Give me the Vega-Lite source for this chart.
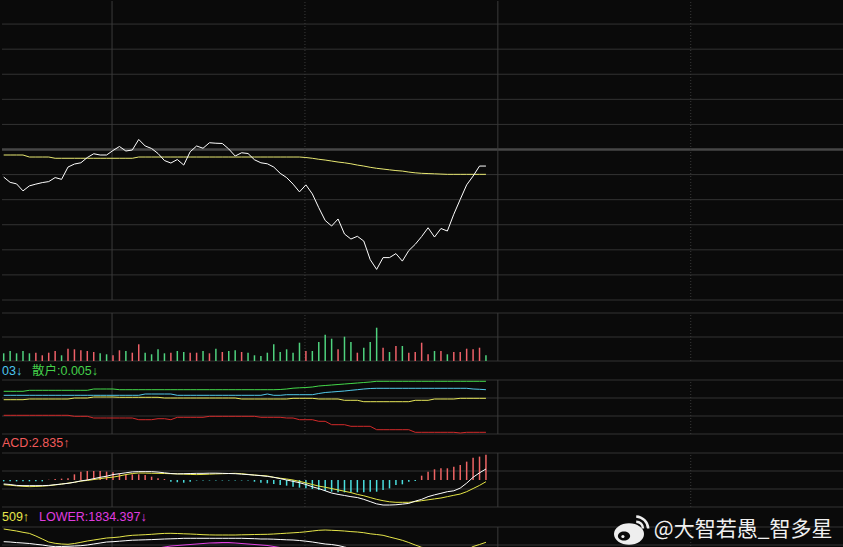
{
"$schema": "https://vega.github.io/schema/vega-lite/v6.json",
"background": "#0a0a0a",
"padding": 0,
"spacing": 0,
"config": {"view": {"stroke": null}, "text": {"font": "Liberation Sans"}},
"datasets": {
"k": [
{"i":0,"c":1829.0,"ma":1837.8,"v":0.77,"d":"dn","g":4.27,"b":3.87,"y":3.43,"r":1.87,"m":-0.15,"dif":-0.44,"dea":-0.52,"up":1876,"mid":1863.3,"lo":1850},
{"i":1,"c":1826.9,"ma":1837.8,"v":1.0,"d":"dn","g":4.27,"b":3.87,"y":3.43,"r":1.87,"m":-0.15,"dif":-0.5,"dea":-0.58,"up":1875,"mid":1863,"lo":1850},
{"i":2,"c":1826.3,"ma":1837.8,"v":0.77,"d":"dn","g":4.27,"b":3.87,"y":3.43,"r":1.87,"m":-0.15,"dif":-0.6,"dea":-0.65,"up":1874,"mid":1862.4,"lo":1850},
{"i":3,"c":1823.5,"ma":1837.8,"v":1.0,"d":"dn","g":4.27,"b":3.87,"y":3.43,"r":1.87,"m":-0.15,"dif":-0.63,"dea":-0.7,"up":1872.7,"mid":1862,"lo":1850},
{"i":4,"c":1825.5,"ma":1837.0,"v":0.77,"d":"dn","g":4.37,"b":3.87,"y":3.5,"r":1.87,"m":-0.15,"dif":-0.63,"dea":-0.74,"up":1871.6,"mid":1861.5,"lo":1850},
{"i":5,"c":1826.2,"ma":1837.0,"v":0.83,"d":"up","g":4.37,"b":3.87,"y":3.5,"r":1.87,"m":-0.15,"dif":-0.63,"dea":-0.72,"up":1869,"mid":1860.7,"lo":1850},
{"i":6,"c":1826.8,"ma":1837.0,"v":0.57,"d":"up","g":4.37,"b":3.87,"y":3.5,"r":1.87,"m":-0.15,"dif":-0.63,"dea":-0.68,"up":1866,"mid":1860,"lo":1850},
{"i":7,"c":1827.2,"ma":1837.0,"v":0.83,"d":"up","g":4.37,"b":3.87,"y":3.5,"r":1.87,"m":0.03,"dif":-0.6,"dea":-0.63,"up":1863,"mid":1859,"lo":1853},
{"i":8,"c":1828.8,"ma":1836.5,"v":1.0,"d":"up","g":4.37,"b":3.87,"y":3.5,"r":1.87,"m":0.1,"dif":-0.52,"dea":-0.55,"up":1861.7,"mid":1858.3,"lo":1854},
{"i":9,"c":1828.1,"ma":1836.5,"v":0.57,"d":"dn","g":4.37,"b":3.87,"y":3.5,"r":1.87,"m":0.15,"dif":-0.45,"dea":-0.45,"up":1861,"mid":1858.5,"lo":1854},
{"i":10,"c":1833.0,"ma":1836.5,"v":1.23,"d":"up","g":4.37,"b":3.87,"y":3.5,"r":1.87,"m":0.2,"dif":-0.37,"dea":-0.35,"up":1860.7,"mid":1858.7,"lo":1854},
{"i":11,"c":1834.2,"ma":1836.5,"v":1.17,"d":"up","g":4.37,"b":3.87,"y":3.6,"r":1.77,"m":0.63,"dif":-0.25,"dea":-0.25,"up":1861.5,"mid":1859,"lo":1854},
{"i":12,"c":1834.7,"ma":1836.5,"v":1.07,"d":"up","g":4.37,"b":3.87,"y":3.6,"r":1.77,"m":0.93,"dif":-0.1,"dea":-0.12,"up":1862.7,"mid":1859.3,"lo":1854},
{"i":13,"c":1836.8,"ma":1836.5,"v":1.0,"d":"up","g":4.37,"b":3.87,"y":3.6,"r":1.77,"m":1.0,"dif":0.0,"dea":-0.05,"up":1864,"mid":1860,"lo":1854},
{"i":14,"c":1838.3,"ma":1836.5,"v":0.9,"d":"up","g":4.5,"b":3.87,"y":3.7,"r":1.6,"m":1.0,"dif":0.15,"dea":0.05,"up":1865,"mid":1861,"lo":1854},
{"i":15,"c":1837.8,"ma":1836.5,"v":0.77,"d":"dn","g":4.5,"b":3.87,"y":3.7,"r":1.6,"m":1.0,"dif":0.3,"dea":0.15,"up":1866,"mid":1862,"lo":1854},
{"i":16,"c":1837.8,"ma":1836.5,"v":0.67,"d":"dn","g":4.5,"b":3.87,"y":3.7,"r":1.6,"m":0.93,"dif":0.42,"dea":0.25,"up":1867,"mid":1863,"lo":1852.5},
{"i":17,"c":1839.6,"ma":1836.5,"v":0.57,"d":"up","g":4.5,"b":3.87,"y":3.7,"r":1.6,"m":0.85,"dif":0.6,"dea":0.32,"up":1867.4,"mid":1863.3,"lo":1851},
{"i":18,"c":1841.2,"ma":1836.5,"v":1.07,"d":"up","g":4.43,"b":3.87,"y":3.67,"r":1.6,"m":0.74,"dif":0.7,"dea":0.45,"up":1868,"mid":1863.8,"lo":1851},
{"i":19,"c":1839.4,"ma":1836.5,"v":1.0,"d":"dn","g":4.43,"b":3.87,"y":3.67,"r":1.6,"m":0.63,"dif":0.8,"dea":0.6,"up":1869,"mid":1864.3,"lo":1851},
{"i":20,"c":1839.8,"ma":1836.5,"v":0.83,"d":"up","g":4.43,"b":3.87,"y":3.67,"r":1.6,"m":0.63,"dif":0.9,"dea":0.72,"up":1869.7,"mid":1864.8,"lo":1852},
{"i":21,"c":1844.0,"ma":1837.0,"v":1.67,"d":"up","g":4.43,"b":3.87,"y":3.67,"r":1.43,"m":0.63,"dif":0.93,"dea":0.78,"up":1870,"mid":1865,"lo":1854},
{"i":22,"c":1841.4,"ma":1837.0,"v":0.83,"d":"dn","g":4.43,"b":4.0,"y":3.67,"r":1.43,"m":0.55,"dif":0.93,"dea":0.77,"up":1870.3,"mid":1865.2,"lo":1855},
{"i":23,"c":1840.4,"ma":1837.0,"v":0.67,"d":"dn","g":4.43,"b":4.0,"y":3.67,"r":1.43,"m":0.37,"dif":0.93,"dea":0.75,"up":1870.7,"mid":1865.4,"lo":1856},
{"i":24,"c":1838.4,"ma":1837.0,"v":1.17,"d":"dn","g":4.43,"b":4.0,"y":3.67,"r":1.53,"m":0.2,"dif":0.88,"dea":0.74,"up":1871.2,"mid":1865.7,"lo":1857},
{"i":25,"c":1835.6,"ma":1837.0,"v":0.77,"d":"dn","g":4.43,"b":4.0,"y":3.6,"r":1.53,"m":0.1,"dif":0.8,"dea":0.72,"up":1871.6,"mid":1866,"lo":1858},
{"i":26,"c":1834.6,"ma":1837.0,"v":0.83,"d":"up","g":4.43,"b":4.0,"y":3.6,"r":1.43,"m":-0.2,"dif":0.72,"dea":0.7,"up":1871.7,"mid":1866.2,"lo":1859},
{"i":27,"c":1836.0,"ma":1837.0,"v":1.0,"d":"dn","g":4.43,"b":3.87,"y":3.6,"r":1.67,"m":-0.25,"dif":0.68,"dea":0.68,"up":1871.5,"mid":1866.4,"lo":1859.5},
{"i":28,"c":1833.8,"ma":1837.0,"v":0.9,"d":"dn","g":4.43,"b":3.87,"y":3.6,"r":1.67,"m":-0.3,"dif":0.7,"dea":0.65,"up":1871.2,"mid":1866.7,"lo":1860},
{"i":29,"c":1839.1,"ma":1837.0,"v":0.83,"d":"up","g":4.43,"b":3.87,"y":3.6,"r":1.67,"m":-0.2,"dif":0.72,"dea":0.62,"up":1871,"mid":1866.7,"lo":1860.5},
{"i":30,"c":1841.4,"ma":1837.0,"v":0.83,"d":"up","g":4.43,"b":3.87,"y":3.6,"r":1.67,"m":-0.05,"dif":0.74,"dea":0.6,"up":1870.7,"mid":1866.7,"lo":1861},
{"i":31,"c":1840.5,"ma":1837.0,"v":1.0,"d":"dn","g":4.43,"b":3.87,"y":3.6,"r":1.67,"m":-0.05,"dif":0.74,"dea":0.62,"up":1870.3,"mid":1866.7,"lo":1861.5},
{"i":32,"c":1842.7,"ma":1837.0,"v":0.77,"d":"up","g":4.43,"b":3.87,"y":3.6,"r":1.77,"m":-0.05,"dif":0.76,"dea":0.65,"up":1870.1,"mid":1866.7,"lo":1862},
{"i":33,"c":1842.5,"ma":1837.0,"v":1.23,"d":"dn","g":4.43,"b":3.87,"y":3.6,"r":1.77,"m":-0.05,"dif":0.76,"dea":0.68,"up":1870,"mid":1866.7,"lo":1862.2},
{"i":34,"c":1842.4,"ma":1837.0,"v":0.9,"d":"up","g":4.43,"b":3.87,"y":3.6,"r":1.77,"m":-0.05,"dif":0.74,"dea":0.7,"up":1870,"mid":1866.7,"lo":1862.3},
{"i":35,"c":1840.2,"ma":1837.0,"v":1.0,"d":"dn","g":4.43,"b":3.87,"y":3.6,"r":1.77,"m":-0.05,"dif":0.72,"dea":0.72,"up":1870,"mid":1866.7,"lo":1862.3},
{"i":36,"c":1837.4,"ma":1837.0,"v":1.07,"d":"dn","g":4.43,"b":3.87,"y":3.6,"r":1.77,"m":-0.05,"dif":0.7,"dea":0.74,"up":1870,"mid":1866.7,"lo":1862},
{"i":37,"c":1838.7,"ma":1837.0,"v":0.9,"d":"up","g":4.43,"b":3.87,"y":3.5,"r":1.77,"m":-0.05,"dif":0.65,"dea":0.7,"up":1870.2,"mid":1866.7,"lo":1861.5},
{"i":38,"c":1838.4,"ma":1837.0,"v":0.83,"d":"dn","g":4.43,"b":3.87,"y":3.5,"r":1.77,"m":-0.05,"dif":0.6,"dea":0.62,"up":1870.3,"mid":1866.5,"lo":1861},
{"i":39,"c":1835.9,"ma":1837.0,"v":0.57,"d":"dn","g":4.43,"b":3.87,"y":3.5,"r":1.77,"m":-0.19,"dif":0.54,"dea":0.55,"up":1870.5,"mid":1866.3,"lo":1860.5},
{"i":40,"c":1834.7,"ma":1837.0,"v":0.5,"d":"dn","g":4.43,"b":3.87,"y":3.5,"r":1.67,"m":-0.3,"dif":0.48,"dea":0.5,"up":1870.6,"mid":1866,"lo":1860},
{"i":41,"c":1834.3,"ma":1837.0,"v":0.83,"d":"dn","g":4.43,"b":4.0,"y":3.5,"r":1.67,"m":-0.37,"dif":0.4,"dea":0.45,"up":1870.7,"mid":1866,"lo":1859.5},
{"i":42,"c":1833.0,"ma":1837.0,"v":1.67,"d":"dn","g":4.43,"b":3.87,"y":3.5,"r":1.67,"m":-0.44,"dif":0.3,"dea":0.3,"up":1871,"mid":1865.8,"lo":1858.5},
{"i":43,"c":1830.5,"ma":1837.0,"v":0.9,"d":"dn","g":4.45,"b":3.87,"y":3.5,"r":1.67,"m":-0.55,"dif":0.15,"dea":0.2,"up":1871.4,"mid":1865.5,"lo":1857.5},
{"i":44,"c":1828.8,"ma":1837.0,"v":1.17,"d":"dn","g":4.5,"b":3.93,"y":3.5,"r":1.6,"m":-0.63,"dif":0.0,"dea":0.11,"up":1871.8,"mid":1865.2,"lo":1856},
{"i":45,"c":1826.2,"ma":1837.0,"v":0.83,"d":"dn","g":4.58,"b":3.93,"y":3.57,"r":1.6,"m":-0.74,"dif":-0.15,"dea":0.0,"up":1872.2,"mid":1865,"lo":1854.5},
{"i":46,"c":1823.1,"ma":1837.0,"v":1.83,"d":"dn","g":4.62,"b":3.93,"y":3.57,"r":1.43,"m":-0.85,"dif":-0.3,"dea":-0.15,"up":1872.6,"mid":1864.5,"lo":1853},
{"i":47,"c":1825.9,"ma":1836.8,"v":1.0,"d":"up","g":4.65,"b":3.93,"y":3.57,"r":1.43,"m":-0.93,"dif":-0.5,"dea":-0.32,"up":1873.2,"mid":1863.8,"lo":1852},
{"i":48,"c":1822.3,"ma":1836.5,"v":1.0,"d":"dn","g":4.7,"b":3.93,"y":3.57,"r":1.43,"m":-1.0,"dif":-0.75,"dea":-0.5,"up":1874,"mid":1863,"lo":1850},
{"i":49,"c":1816.8,"ma":1836.1,"v":1.9,"d":"dn","g":4.8,"b":4.05,"y":3.5,"r":1.27,"m":-1.11,"dif":-0.95,"dea":-0.68,"up":1874.7,"mid":1862,"lo":1848},
{"i":50,"c":1811.7,"ma":1835.8,"v":2.63,"d":"dn","g":4.85,"b":4.15,"y":3.5,"r":1.27,"m":-1.22,"dif":-1.2,"dea":-0.8,"up":1875,"mid":1861,"lo":1845},
{"i":51,"c":1809.5,"ma":1835.4,"v":2.23,"d":"dn","g":4.9,"b":4.2,"y":3.5,"r":0.93,"m":-1.3,"dif":-1.45,"dea":-0.95,"up":1874.7,"mid":1860.5,"lo":1842},
{"i":52,"c":1812.3,"ma":1835.0,"v":1.17,"d":"up","g":4.95,"b":4.25,"y":3.5,"r":0.93,"m":-1.37,"dif":-1.6,"dea":-1.1,"up":1874.4,"mid":1859.5,"lo":1839},
{"i":53,"c":1806.3,"ma":1834.7,"v":2.43,"d":"dn","g":5.0,"b":4.3,"y":3.37,"r":0.93,"m":-1.37,"dif":-1.72,"dea":-1.25,"up":1874,"mid":1858,"lo":1836},
{"i":54,"c":1804.3,"ma":1834.3,"v":1.9,"d":"dn","g":5.05,"b":4.37,"y":3.37,"r":0.77,"m":-1.37,"dif":-1.85,"dea":-1.4,"up":1873.4,"mid":1856.5,"lo":1833},
{"i":55,"c":1805.4,"ma":1833.8,"v":0.83,"d":"up","g":5.1,"b":4.43,"y":3.37,"r":0.77,"m":-1.37,"dif":-1.95,"dea":-1.6,"up":1873,"mid":1855,"lo":1830},
{"i":56,"c":1803.5,"ma":1833.4,"v":1.33,"d":"dn","g":5.15,"b":4.5,"y":3.23,"r":0.77,"m":-1.37,"dif":-2.15,"dea":-1.75,"up":1872.3,"mid":1853.5,"lo":1828},
{"i":57,"c":1796.1,"ma":1832.9,"v":1.9,"d":"dn","g":5.2,"b":4.55,"y":3.23,"r":0.77,"m":-1.3,"dif":-2.4,"dea":-1.95,"up":1871.2,"mid":1852,"lo":1826},
{"i":58,"c":1792.2,"ma":1832.5,"v":3.33,"d":"dn","g":5.27,"b":4.57,"y":3.23,"r":0.43,"m":-1.3,"dif":-2.65,"dea":-2.15,"up":1870.5,"mid":1850.5,"lo":1825},
{"i":59,"c":1796.9,"ma":1832.2,"v":1.33,"d":"up","g":5.27,"b":4.57,"y":3.23,"r":0.43,"m":-1.11,"dif":-2.78,"dea":-2.3,"up":1869.7,"mid":1849,"lo":1824},
{"i":60,"c":1796.9,"ma":1831.9,"v":0.9,"d":"dn","g":5.27,"b":4.57,"y":3.23,"r":0.43,"m":-0.93,"dif":-2.78,"dea":-2.42,"up":1868,"mid":1847.5,"lo":1823},
{"i":61,"c":1798.5,"ma":1831.6,"v":1.5,"d":"up","g":5.27,"b":4.57,"y":3.23,"r":0.43,"m":-0.55,"dif":-2.75,"dea":-2.48,"up":1866.4,"mid":1846,"lo":1822},
{"i":62,"c":1795.5,"ma":1831.4,"v":1.5,"d":"dn","g":5.27,"b":4.57,"y":3.23,"r":0.43,"m":-0.48,"dif":-2.68,"dea":-2.48,"up":1864.7,"mid":1845,"lo":1822},
{"i":63,"c":1799.7,"ma":1831.0,"v":0.83,"d":"up","g":5.27,"b":4.57,"y":3.23,"r":0.43,"m":-0.2,"dif":-2.6,"dea":-2.48,"up":1862.5,"mid":1844,"lo":1822},
{"i":64,"c":1802.2,"ma":1830.7,"v":0.9,"d":"up","g":5.27,"b":4.57,"y":3.37,"r":0.17,"m":-0.1,"dif":-2.35,"dea":-2.4,"up":1860,"mid":1843.5,"lo":1823},
{"i":65,"c":1805.3,"ma":1830.5,"v":1.83,"d":"up","g":5.27,"b":4.57,"y":3.37,"r":0.17,"m":0.48,"dif":-2.15,"dea":-2.3,"up":1857.7,"mid":1843.5,"lo":1824},
{"i":66,"c":1808.8,"ma":1830.4,"v":0.67,"d":"up","g":5.27,"b":4.57,"y":3.37,"r":0.17,"m":0.93,"dif":-1.85,"dea":-2.2,"up":1856.7,"mid":1844,"lo":1825},
{"i":67,"c":1805.1,"ma":1830.3,"v":1.0,"d":"dn","g":5.27,"b":4.57,"y":3.5,"r":0.17,"m":1.19,"dif":-1.65,"dea":-2.1,"up":1853,"mid":1845,"lo":1826},
{"i":68,"c":1808.5,"ma":1830.2,"v":1.0,"d":"up","g":5.27,"b":4.57,"y":3.5,"r":0.17,"m":1.3,"dif":-1.48,"dea":-2.0,"up":1851,"mid":1846,"lo":1827},
{"i":69,"c":1807.5,"ma":1830.1,"v":0.67,"d":"dn","g":5.27,"b":4.57,"y":3.5,"r":0.17,"m":1.3,"dif":-1.3,"dea":-1.85,"up":1850,"mid":1847,"lo":1828},
{"i":70,"c":1814.2,"ma":1830.1,"v":0.9,"d":"up","g":5.27,"b":4.57,"y":3.5,"r":0.17,"m":1.48,"dif":-1.2,"dea":-1.7,"up":1850,"mid":1848,"lo":1829},
{"i":71,"c":1820.1,"ma":1830.1,"v":0.9,"d":"up","g":5.27,"b":4.57,"y":3.57,"r":0.1,"m":1.67,"dif":-0.9,"dea":-1.56,"up":1851,"mid":1849,"lo":1830},
{"i":72,"c":1825.9,"ma":1830.1,"v":1.23,"d":"up","g":5.27,"b":4.57,"y":3.57,"r":0.17,"m":2.04,"dif":-0.35,"dea":-1.3,"up":1855,"mid":1850,"lo":1831},
{"i":73,"c":1829.4,"ma":1830.1,"v":1.17,"d":"up","g":5.27,"b":4.5,"y":3.57,"r":0.17,"m":2.48,"dif":0.3,"dea":-0.95,"up":1858.5,"mid":1850.5,"lo":1832},
{"i":74,"c":1833.4,"ma":1830.1,"v":1.33,"d":"up","g":5.27,"b":4.47,"y":3.57,"r":0.17,"m":2.6,"dif":0.8,"dea":-0.6,"up":1860.5,"mid":1851,"lo":1833},
{"i":75,"c":1833.4,"ma":1830.1,"v":0.57,"d":"dn","g":5.27,"b":4.43,"y":3.57,"r":0.17,"m":2.8,"dif":1.22,"dea":-0.19,"up":1862.7,"mid":1851.5,"lo":1834.4}
]
},
"vconcat": [
{
"width": 843, "height": 299,
"layer": [
{"data": {"values": [{"v":1780},{"v":1790},{"v":1800},{"v":1810},{"v":1820},{"v":1830},{"v":1850},{"v":1860},{"v":1870},{"v":1880},{"v":1890}]},
 "mark": {"type": "rule", "color": "#333333", "strokeWidth": 1},
 "encoding": {"y": {"field": "v", "type": "quantitative", "scale": {"domain": [1780, 1899.2], "nice": false, "zero": false}, "axis": null}}},
{"data": {"values": [{"v":1840}]},
 "mark": {"type": "rule", "color": "#474747", "strokeWidth": 2.5},
 "encoding": {"y": {"field": "v", "type": "quantitative", "scale": {"domain": [1780, 1899.2], "nice": false, "zero": false}, "axis": null}}},
{"data": {"values": [{"x":16.85},{"x":76.85}]},
 "mark": {"type": "rule", "color": "#3a3a3a", "strokeWidth": 1},
 "encoding": {"x": {"field": "x", "type": "quantitative", "scale": {"domain": [-0.2644, 130.84], "nice": false, "zero": false}, "axis": null},
  "y": {"datum": 1780, "type": "quantitative", "scale": {"domain": [1780, 1899.2], "nice": false, "zero": false}, "axis": null}, "y2": {"datum": 1899.2}}},
{"data": {"values": [{"x":46.85},{"x":106.85}]},
 "mark": {"type": "rule", "color": "#3a3a3a", "strokeWidth": 1, "strokeDash": [1, 2]},
 "encoding": {"x": {"field": "x", "type": "quantitative", "scale": {"domain": [-0.2644, 130.84], "nice": false, "zero": false}, "axis": null},
  "y": {"datum": 1780, "type": "quantitative", "scale": {"domain": [1780, 1899.2], "nice": false, "zero": false}, "axis": null}, "y2": {"datum": 1899.2}}},
{"data": {"name": "k"},
 "mark": {"type": "line", "color": "#e8e872", "strokeWidth": 1},
 "encoding": {"x": {"field": "i", "type": "quantitative", "scale": {"domain": [-0.2644, 130.84], "nice": false, "zero": false}, "axis": null},
  "y": {"field": "ma", "type": "quantitative", "scale": {"domain": [1780, 1899.2], "nice": false, "zero": false}, "axis": null}}},
{"data": {"name": "k"},
 "mark": {"type": "line", "color": "#ffffff", "strokeWidth": 1},
 "encoding": {"x": {"field": "i", "type": "quantitative", "scale": {"domain": [-0.2644, 130.84], "nice": false, "zero": false}, "axis": null},
  "y": {"field": "c", "type": "quantitative", "scale": {"domain": [1780, 1899.2], "nice": false, "zero": false}, "axis": null}}}
]
},
{
"width": 843, "height": 60,
"layer": [
{"data": {"values": [{"v":0},{"v":2.4},{"v":4.8}]},
 "mark": {"type": "rule", "color": "#333333", "strokeWidth": 1},
 "encoding": {"y": {"field": "v", "type": "quantitative", "scale": {"domain": [0, 6], "nice": false, "zero": false}, "axis": null}}},
{"data": {"values": [{"x":16.85},{"x":76.85}]},
 "mark": {"type": "rule", "color": "#3a3a3a", "strokeWidth": 1},
 "encoding": {"x": {"field": "x", "type": "quantitative", "scale": {"domain": [-0.2644, 130.84], "nice": false, "zero": false}, "axis": null},
  "y": {"datum": 0, "type": "quantitative", "scale": {"domain": [0, 6], "nice": false, "zero": false}, "axis": null}, "y2": {"datum": 4.8}}},
{"data": {"values": [{"x":46.85},{"x":106.85}]},
 "mark": {"type": "rule", "color": "#3a3a3a", "strokeWidth": 1, "strokeDash": [1, 2]},
 "encoding": {"x": {"field": "x", "type": "quantitative", "scale": {"domain": [-0.2644, 130.84], "nice": false, "zero": false}, "axis": null},
  "y": {"datum": 0, "type": "quantitative", "scale": {"domain": [0, 6], "nice": false, "zero": false}, "axis": null}, "y2": {"datum": 4.8}}},
{"data": {"name": "k"},
 "mark": {"type": "rule", "strokeWidth": 1.5},
 "encoding": {"x": {"field": "i", "type": "quantitative", "scale": {"domain": [-0.2644, 130.84], "nice": false, "zero": false}, "axis": null},
  "y": {"field": "v", "type": "quantitative", "scale": {"domain": [0, 6], "nice": false, "zero": false}, "axis": null},
  "y2": {"datum": 0},
  "color": {"field": "d", "type": "nominal", "scale": {"domain": ["up", "dn"], "range": ["#ee6068", "#4fd27e"]}, "legend": null}}}
]
},
{
"width": 843, "height": 72,
"layer": [
{"data": {"values": [{"v":0},{"v":1.8},{"v":3.6},{"v":5.4}]},
 "mark": {"type": "rule", "color": "#333333", "strokeWidth": 1},
 "encoding": {"y": {"field": "v", "type": "quantitative", "scale": {"domain": [0, 7.2], "nice": false, "zero": false}, "axis": null}}},
{"data": {"values": [{"x":16.85},{"x":76.85}]},
 "mark": {"type": "rule", "color": "#3a3a3a", "strokeWidth": 1},
 "encoding": {"x": {"field": "x", "type": "quantitative", "scale": {"domain": [-0.2644, 130.84], "nice": false, "zero": false}, "axis": null},
  "y": {"datum": 0, "type": "quantitative", "scale": {"domain": [0, 7.2], "nice": false, "zero": false}, "axis": null}, "y2": {"datum": 5.4}}},
{"data": {"values": [{"x":46.85},{"x":106.85}]},
 "mark": {"type": "rule", "color": "#3a3a3a", "strokeWidth": 1, "strokeDash": [1, 2]},
 "encoding": {"x": {"field": "x", "type": "quantitative", "scale": {"domain": [-0.2644, 130.84], "nice": false, "zero": false}, "axis": null},
  "y": {"datum": 0, "type": "quantitative", "scale": {"domain": [0, 7.2], "nice": false, "zero": false}, "axis": null}, "y2": {"datum": 5.4}}},
{"data": {"name": "k"},
 "mark": {"type": "line", "color": "#d22a2a", "strokeWidth": 1},
 "encoding": {"x": {"field": "i", "type": "quantitative", "scale": {"domain": [-0.2644, 130.84], "nice": false, "zero": false}, "axis": null},
  "y": {"field": "r", "type": "quantitative", "scale": {"domain": [0, 7.2], "nice": false, "zero": false}, "axis": null}}},
{"data": {"name": "k"},
 "mark": {"type": "line", "color": "#e8e85a", "strokeWidth": 1},
 "encoding": {"x": {"field": "i", "type": "quantitative", "scale": {"domain": [-0.2644, 130.84], "nice": false, "zero": false}, "axis": null},
  "y": {"field": "y", "type": "quantitative", "scale": {"domain": [0, 7.2], "nice": false, "zero": false}, "axis": null}}},
{"data": {"name": "k"},
 "mark": {"type": "line", "color": "#52c8e8", "strokeWidth": 1},
 "encoding": {"x": {"field": "i", "type": "quantitative", "scale": {"domain": [-0.2644, 130.84], "nice": false, "zero": false}, "axis": null},
  "y": {"field": "b", "type": "quantitative", "scale": {"domain": [0, 7.2], "nice": false, "zero": false}, "axis": null}}},
{"data": {"name": "k"},
 "mark": {"type": "line", "color": "#44d84a", "strokeWidth": 1},
 "encoding": {"x": {"field": "i", "type": "quantitative", "scale": {"domain": [-0.2644, 130.84], "nice": false, "zero": false}, "axis": null},
  "y": {"field": "g", "type": "quantitative", "scale": {"domain": [0, 7.2], "nice": false, "zero": false}, "axis": null}}},
{"data": {"values": [{}]},
 "mark": {"type": "text", "align": "left", "baseline": "middle", "fontSize": 12.5, "color": "#4cc6ee", "text": "03↓"},
 "encoding": {"x": {"datum": -0.2644, "type": "quantitative", "scale": {"domain": [-0.2644, 130.84], "nice": false, "zero": false}, "axis": null},
  "y": {"datum": 6.3, "type": "quantitative", "scale": {"domain": [0, 7.2], "nice": false, "zero": false}, "axis": null}}},
{"data": {"values": [{}]},
 "mark": {"type": "text", "align": "left", "baseline": "middle", "fontSize": 12.5, "font": "Liberation Sans, Noto Sans CJK SC", "color": "#44d04a", "text": "散户:0.005↓"},
 "encoding": {"x": {"datum": 4.4, "type": "quantitative", "scale": {"domain": [-0.2644, 130.84], "nice": false, "zero": false}, "axis": null},
  "y": {"datum": 6.3, "type": "quantitative", "scale": {"domain": [0, 7.2], "nice": false, "zero": false}, "axis": null}}}
]
},
{
"width": 843, "height": 72,
"layer": [
{"data": {"values": [{"v":-3},{"v":-1},{"v":1},{"v":3}]},
 "mark": {"type": "rule", "color": "#333333", "strokeWidth": 1},
 "encoding": {"y": {"field": "v", "type": "quantitative", "scale": {"domain": [-3, 5], "nice": false, "zero": false}, "axis": null}}},
{"data": {"values": [{"x":16.85},{"x":76.85}]},
 "mark": {"type": "rule", "color": "#3a3a3a", "strokeWidth": 1},
 "encoding": {"x": {"field": "x", "type": "quantitative", "scale": {"domain": [-0.2644, 130.84], "nice": false, "zero": false}, "axis": null},
  "y": {"datum": -3, "type": "quantitative", "scale": {"domain": [-3, 5], "nice": false, "zero": false}, "axis": null}, "y2": {"datum": 3}}},
{"data": {"values": [{"x":46.85},{"x":106.85}]},
 "mark": {"type": "rule", "color": "#3a3a3a", "strokeWidth": 1, "strokeDash": [1, 2]},
 "encoding": {"x": {"field": "x", "type": "quantitative", "scale": {"domain": [-0.2644, 130.84], "nice": false, "zero": false}, "axis": null},
  "y": {"datum": -3, "type": "quantitative", "scale": {"domain": [-3, 5], "nice": false, "zero": false}, "axis": null}, "y2": {"datum": 3}}},
{"data": {"name": "k"},
 "mark": {"type": "rule", "strokeWidth": 1.5},
 "encoding": {"x": {"field": "i", "type": "quantitative", "scale": {"domain": [-0.2644, 130.84], "nice": false, "zero": false}, "axis": null},
  "y": {"field": "m", "type": "quantitative", "scale": {"domain": [-3, 5], "nice": false, "zero": false}, "axis": null},
  "y2": {"datum": 0},
  "color": {"condition": {"test": "datum.m > 0", "value": "#ee6464"}, "value": "#4adede"}}},
{"data": {"name": "k"},
 "mark": {"type": "line", "color": "#e6e646", "strokeWidth": 1},
 "encoding": {"x": {"field": "i", "type": "quantitative", "scale": {"domain": [-0.2644, 130.84], "nice": false, "zero": false}, "axis": null},
  "y": {"field": "dea", "type": "quantitative", "scale": {"domain": [-3, 5], "nice": false, "zero": false}, "axis": null}}},
{"data": {"name": "k"},
 "mark": {"type": "line", "color": "#ffffff", "strokeWidth": 1},
 "encoding": {"x": {"field": "i", "type": "quantitative", "scale": {"domain": [-0.2644, 130.84], "nice": false, "zero": false}, "axis": null},
  "y": {"field": "dif", "type": "quantitative", "scale": {"domain": [-3, 5], "nice": false, "zero": false}, "axis": null}}},
{"data": {"values": [{}]},
 "mark": {"type": "text", "align": "left", "baseline": "middle", "fontSize": 12.5, "color": "#f25a5a", "text": "ACD:2.835↑"},
 "encoding": {"x": {"datum": -0.2644, "type": "quantitative", "scale": {"domain": [-0.2644, 130.84], "nice": false, "zero": false}, "axis": null},
  "y": {"datum": 4.11, "type": "quantitative", "scale": {"domain": [-3, 5], "nice": false, "zero": false}, "axis": null}}}
]
},
{
"width": 843, "height": 44,
"layer": [
{"data": {"values": [{"v":1860},{"v":1878}]},
 "mark": {"type": "rule", "color": "#333333", "strokeWidth": 1},
 "encoding": {"y": {"field": "v", "type": "quantitative", "scale": {"domain": [1853, 1897], "nice": false, "zero": false}, "axis": null}}},
{"data": {"values": [{"x":16.85},{"x":76.85}]},
 "mark": {"type": "rule", "color": "#3a3a3a", "strokeWidth": 1},
 "encoding": {"x": {"field": "x", "type": "quantitative", "scale": {"domain": [-0.2644, 130.84], "nice": false, "zero": false}, "axis": null},
  "y": {"datum": 1853, "type": "quantitative", "scale": {"domain": [1853, 1897], "nice": false, "zero": false}, "axis": null}, "y2": {"datum": 1878}}},
{"data": {"values": [{"x":46.85},{"x":106.85}]},
 "mark": {"type": "rule", "color": "#3a3a3a", "strokeWidth": 1, "strokeDash": [1, 2]},
 "encoding": {"x": {"field": "x", "type": "quantitative", "scale": {"domain": [-0.2644, 130.84], "nice": false, "zero": false}, "axis": null},
  "y": {"datum": 1853, "type": "quantitative", "scale": {"domain": [1853, 1897], "nice": false, "zero": false}, "axis": null}, "y2": {"datum": 1878}}},
{"data": {"name": "k"},
 "mark": {"type": "line", "color": "#e040e0", "strokeWidth": 1.2, "clip": true},
 "encoding": {"x": {"field": "i", "type": "quantitative", "scale": {"domain": [-0.2644, 130.84], "nice": false, "zero": false}, "axis": null},
  "y": {"field": "lo", "type": "quantitative", "scale": {"domain": [1853, 1897], "nice": false, "zero": false}, "axis": null}}},
{"data": {"name": "k"},
 "mark": {"type": "line", "color": "#ffffff", "strokeWidth": 1, "clip": true},
 "encoding": {"x": {"field": "i", "type": "quantitative", "scale": {"domain": [-0.2644, 130.84], "nice": false, "zero": false}, "axis": null},
  "y": {"field": "mid", "type": "quantitative", "scale": {"domain": [1853, 1897], "nice": false, "zero": false}, "axis": null}}},
{"data": {"name": "k"},
 "mark": {"type": "line", "color": "#e6e64a", "strokeWidth": 1, "clip": true},
 "encoding": {"x": {"field": "i", "type": "quantitative", "scale": {"domain": [-0.2644, 130.84], "nice": false, "zero": false}, "axis": null},
  "y": {"field": "up", "type": "quantitative", "scale": {"domain": [1853, 1897], "nice": false, "zero": false}, "axis": null}}},
{"data": {"values": [{}]},
 "mark": {"type": "text", "align": "left", "baseline": "middle", "fontSize": 12.5, "color": "#e6e64a", "text": "509↑"},
 "encoding": {"x": {"datum": -0.2644, "type": "quantitative", "scale": {"domain": [-0.2644, 130.84], "nice": false, "zero": false}, "axis": null},
  "y": {"datum": 1888, "type": "quantitative", "scale": {"domain": [1853, 1897], "nice": false, "zero": false}, "axis": null}}},
{"data": {"values": [{}]},
 "mark": {"type": "text", "align": "left", "baseline": "middle", "fontSize": 12.5, "color": "#e03ce0", "text": "LOWER:1834.397↓"},
 "encoding": {"x": {"datum": 5.49, "type": "quantitative", "scale": {"domain": [-0.2644, 130.84], "nice": false, "zero": false}, "axis": null},
  "y": {"datum": 1888, "type": "quantitative", "scale": {"domain": [1853, 1897], "nice": false, "zero": false}, "axis": null}}},
{"data": {"values": [{}]},
 "mark": {"type": "point", "shape": "M -1 0 A 1 0.72 0 1 1 1 0 A 1 0.72 0 1 1 -1 0 Z", "filled": true, "color": "#eeeeee", "size": 900, "opacity": 1},
 "encoding": {"x": {"datum": 97.25, "type": "quantitative", "scale": {"domain": [-0.2644, 130.84], "nice": false, "zero": false}, "axis": null},
  "y": {"datum": 1871, "type": "quantitative", "scale": {"domain": [1853, 1897], "nice": false, "zero": false}, "axis": null}}},
{"data": {"values": [{}]},
 "mark": {"type": "point", "shape": "M -1 0 A 1 0.75 0 1 1 1 0 A 1 0.75 0 1 1 -1 0 Z", "filled": true, "color": "#0a0a0a", "size": 150, "opacity": 1},
 "encoding": {"x": {"datum": 96.47, "type": "quantitative", "scale": {"domain": [-0.2644, 130.84], "nice": false, "zero": false}, "axis": null},
  "y": {"datum": 1869, "type": "quantitative", "scale": {"domain": [1853, 1897], "nice": false, "zero": false}, "axis": null}}},
{"data": {"values": [{}]},
 "mark": {"type": "point", "shape": "circle", "filled": true, "color": "#eeeeee", "size": 10, "opacity": 1},
 "encoding": {"x": {"datum": 96.3, "type": "quantitative", "scale": {"domain": [-0.2644, 130.84], "nice": false, "zero": false}, "axis": null},
  "y": {"datum": 1868.5, "type": "quantitative", "scale": {"domain": [1853, 1897], "nice": false, "zero": false}, "axis": null}}},
{"data": {"values": [{}]},
 "mark": {"type": "point", "shape": "M 0.15 -0.9 A 0.85 0.85 0 0 1 0.95 -0.1 M 0.15 -0.55 A 0.45 0.45 0 0 1 0.6 -0.1", "filled": false, "color": "#eeeeee", "strokeWidth": 2.5, "size": 900, "opacity": 1},
 "encoding": {"x": {"datum": 98.02, "type": "quantitative", "scale": {"domain": [-0.2644, 130.84], "nice": false, "zero": false}, "axis": null},
  "y": {"datum": 1875, "type": "quantitative", "scale": {"domain": [1853, 1897], "nice": false, "zero": false}, "axis": null}}},
{"data": {"values": [{}]},
 "mark": {"type": "text", "align": "left", "baseline": "middle", "fontSize": 21, "font": "Noto Sans CJK SC", "color": "#f0f0f0", "text": "@大智若愚_智多星"},
 "encoding": {"x": {"datum": 101.1, "type": "quantitative", "scale": {"domain": [-0.2644, 130.84], "nice": false, "zero": false}, "axis": null},
  "y": {"datum": 1875, "type": "quantitative", "scale": {"domain": [1853, 1897], "nice": false, "zero": false}, "axis": null}}}
]
}
]
}
